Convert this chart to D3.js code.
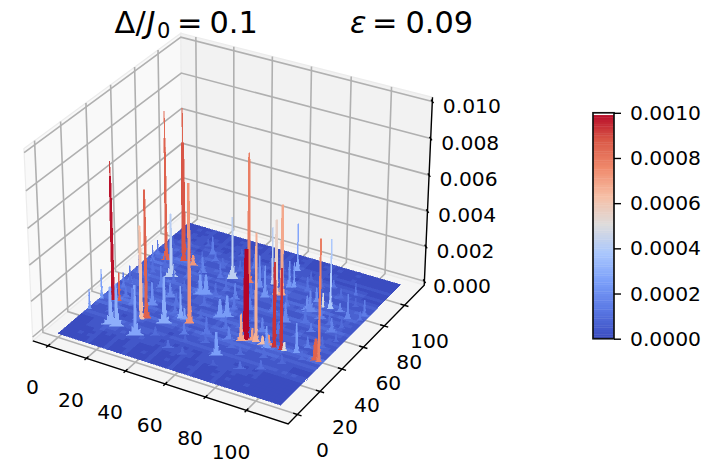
<!DOCTYPE html>
<html><head><meta charset="utf-8">
<script src="https://cdn.jsdelivr.net/npm/d3@7/dist/d3.min.js"></script>
<style>html,body{margin:0;background:#fff}svg{display:block;font-family:"DejaVu Sans",sans-serif}</style>
</head><body><svg id="c" width="702" height="464"></svg>
<script>
// ---- data ----
const xTicks=[0,20,40,60,80,100];
const yTicks=[0,20,40,60,80,100];
const zTicks=[0,0.002,0.004,0.006,0.008,0.01];
const cbTicks=[0,0.0002,0.0004,0.0006,0.0008,0.001];
const cellCount=48, surfaceMax=112;
// background level of each grid row (along y) and column (along x)
const rowLevel=[0,0,1,0,0,1,1,0,2,5,1,1,3,7,1,4,8,2,1,7,4,1,6,3,1,4,8,2,1,5,2,7,1,4,6,1,2,6,3,1,4,1,0,2,1,0,1,0].map(d=>d*1e-5);
const colLevel=[1,0,1,2,0,2,3,0,1,0,3,1,0,2,3,0,1,2,0,3,1,0,2,0,3,1,0,2,3,0,1,0,2,3,0,2,0,1,0,2,0,1,0,1,0,1,0,0].map(d=>d*1e-5);
// peaks: x, y, height, face value, base spread, neck spread
const tallPeaks=[
[6,36,.0077,.00092,1.2,.22],[6,36,.0069,.00098,1.6,.6],[9,36.4,.0016,.00085,.9,.3],
[27.1,30.2,.0071,.00085,2.3,.55],[25.5,28.4,.0052,.00062,1.5,.66],
[8.6,77.6,.0084,.00083,.5,.2],[8.6,77.6,.0069,.00085,2.3,.5],
[16,80.9,.0086,.00085,.5,.22],[16,80.9,.0067,.00088,1.8,.85],
[45.8,36.2,.0077,.00073,2.3,.66],[18.2,82.4,.0007,.00098,.8,.4],[21.8,79.6,.0006,.00072,2.2,.6],
[51.4,79.2,.0073,.00078,2.3,.53],[74.1,37,.005,.001,2.2,1.2],
[78.6,37.7,.006,.00066,1.8,.53],[87.8,37.7,.0047,.00093,1.3,.66],[91.4,37.4,.0045,.00093,1.3,.57],
[67,76.6,.0042,.00055,1.8,.66],[69.6,77.2,.0051,.00068,2.2,.66],
[110,37.3,.0067,.00078,1.3,.44],[108.4,37.5,.0012,.00085,2.6,.9]
];
const midPeaks=[
[18.3,65.9,.0036,.00041,3.4,.57],[36.1,30.6,.0026,.00029,3.6,.66],[40.2,37.8,.0018,.00028,1.8,.35],
[1,24.2,.0011,.00022,.9,.22],[1,34.3,.0017,.00025,.9,.22],[16,18.1,.0021,.0003,4.2,.6],[19.2,17.9,.0024,.0003,3.6,.57],
[30.3,15.7,.0028,.00027,4.2,.57],[15.4,37.1,.0009,.00015,1.8,.44],[43.3,78.4,.0035,.00042,3,.35],
[61.5,83.2,.0033,.00042,.9,.35],[94,78,.0039,.00038,1.4,.3],[65.7,99.2,.0027,.00027,1.6,.26],
[90.5,77.5,.0008,.00048,.7,.35],[98.4,38.6,.0017,.00024,1.6,.35],[93,37.3,.0005,.0005,1.5,.5],
[72.6,35.2,.0015,.00068,2.2,.44],[76.8,37.7,.0007,.0007,2.6,.5],[82.3,37.2,.0005,.00062,2.6,.5],[85,37.8,.0006,.00073,2.6,.5]
];
const lowPeaks=[
[98.5,93.9,.0007,.00012,1,.22],[37.4,59.6,.0011,.00024,3.2,.66],[39.7,60.9,.0011,.00024,3.2,.66],
[54.9,47.3,.001,.00024,3.2,.66],[57.6,48.9,.0012,.00024,3.2,.66],[24.5,92.8,.001,.00014,1.7,.35],
[29,76,.0009,.00016,2.3,.44],[42.1,38,.0006,.00026,2,.4],[69.2,19.6,.0013,.00025,3.2,.57],
[67.5,33.3,.0007,.00016,2.8,.44],[56.9,32,.001,.00012,2.8,.44],[85.1,35.7,.0012,.00024,2.3,.44],
[63.9,71.9,.0018,.00022,2.3,.35],[69.3,84.8,.0015,.00022,1.7,.3],[57.7,78.1,.0018,.0002,1.7,.35],
[85.5,71.9,.0008,.0002,2.8,.44],[104.7,74.2,.0014,.00017,1.7,.3],[110,75.8,.0005,.00012,1.3,.3],
[86,79.9,.0008,.0002,1.7,.4],[87.5,71,.0012,.00018,3.6,.44],[110,80,.0009,.00014,1.7,.26],
[103.7,60.9,.0008,.00016,2.8,.44],[99,77.7,.0005,.00018,2.3,.4],[3.5,73.9,.0009,.00014,1.2,.22],
[2.4,80.1,.0008,.00012,1.2,.22],[2.7,63.7,.0009,.00014,1.2,.22],[3.4,54.4,.0008,.00013,1.2,.22],
[4.4,47.2,.0009,.00013,1.2,.22],[16.7,44.6,.0008,.00018,2.3,.4],[9.8,40.6,.0006,.00012,2.3,.4],
[19.1,55.7,.0012,.00016,2.3,.35],[23.6,40.8,.0013,.0002,2.8,.44],[28.6,88.4,.0005,.00012,1.7,.3],
[38.1,76.4,.0008,.00012,1.7,.3],[48.4,27.1,.0006,.00014,2.3,.4],[47.9,14.4,.0004,.0001,2.8,.5],
[83.4,15.4,.0004,.0001,2.8,.5],[91.2,19.8,.0005,.0001,2.3,.4],[100.5,44.8,.0006,.00014,1.7,.35],
[27.1,50.6,.0008,.00018,3.2,.44],[53.1,63.8,.0009,.00016,2.3,.4],[71.2,85.9,.0014,.00024,1.2,.26],
[63.5,59.1,.0007,.00015,2.8,.44],[82.1,58.1,.0011,.00018,2.8,.44],[77.2,45.9,.0008,.00016,2.8,.44],
[94.2,68.4,.0007,.00015,2.8,.44],[95.7,56.7,.0005,.00014,2.3,.4],[47.4,91.5,.0008,.00013,1.7,.3],
[86.7,94.8,.0004,.00012,1.7,.3]
];
const smallBumps=[
[2,42,.0005,.00007,1.2,.3],[5,52,.0006,.00008,1.3,.3],[6,60,.0007,.00009,1.3,.3],[5,68,.0006,.00008,1.2,.3],
[6,84,.0006,.00008,1.3,.3],[4,91,.0005,.00007,1.2,.3],[9,49,.0006,.00009,1.5,.3],[11,57,.0007,.00009,1.7,.3],
[9,65,.0008,.0001,1.5,.3],[12,71,.0007,.00009,1.7,.3],[13,88,.0006,.00009,1.5,.3],[11,95,.0005,.00007,1.3,.3],
[15,50,.0006,.00009,2,.35],[22,62,.0007,.0001,2,.35],[25,70,.0008,.00011,2,.35],[24,84,.0006,.00009,2,.35],
[19,98,.0004,.00007,1.7,.3],[30,58,.0006,.00009,2,.35],[33,68,.0007,.0001,2.2,.35],[35,84,.0006,.00009,1.8,.3],
[33,46,.0007,.00011,2.2,.35],[37,98,.0004,.00007,1.7,.3],[44,52,.0006,.0001,2.2,.35],[46,68,.0007,.0001,2,.35],
[48,42,.0005,.00009,2.2,.35],[43,86,.0006,.00009,1.7,.3],[55,86,.0007,.00009,1.8,.3],[53,73,.0009,.00012,2,.35],
[59,68,.0008,.00011,2.2,.35],[52,22,.0004,.00007,2.2,.4],[60,26,.0005,.00009,2.3,.4],[62,40,.0007,.00011,2.4,.4],
[72,28,.0006,.00009,2.3,.4],[78,25,.0005,.00009,2.2,.4],[70,52,.0008,.00011,2.4,.4],[73,63,.0009,.00012,2.4,.4],
[76,70,.0009,.00012,2,.35],[64,88,.0007,.0001,1.7,.3],[78,86,.0008,.00011,1.7,.3],[75,95,.0005,.00008,1.5,.3],
[84,48,.0007,.00011,2.3,.4],[88,28,.0006,.00009,2.2,.4],[92,50,.0006,.0001,2.2,.4],[90,62,.0008,.00011,2.4,.4],
[97,28,.0005,.00008,2,.35],[103,35,.0005,.00009,1.8,.35],[106,48,.0006,.00009,1.7,.3],[100,66,.0006,.0001,2,.35],
[106,66,.0006,.00009,1.6,.3],[109,55,.0005,.00009,1.4,.3],[94,88,.0006,.00009,1.7,.3],[103,85,.0005,.00008,1.5,.3],
[82,92,.0005,.00009,1.7,.3],[60,96,.0005,.00007,1.5,.3],[52,100,.0004,.00007,1.4,.3],[24,27,.0005,.0001,2.2,.4],
[10,27,.0005,.00009,2.2,.4],[38,20,.0005,.00009,2.4,.4],[56,13,.0004,.00007,2.3,.4],[72,12,.0003,.00006,2.3,.4],
[36,40,.0006,.00011,2.2,.4],[57,56,.0008,.00012,2.2,.35],[44,62,.0007,.0001,2,.35],[67,44,.0007,.0001,2.2,.4]
];
// ---- scales ----
const paneLo=-8, paneHi=120, zLo=-.00022, zHi=.01022;
const boxA=1.1429, boxC=.8572, dist=10;
const xS=d3.scaleLinear([paneLo,paneHi],[-boxA/2,boxA/2]);
const yS=d3.scaleLinear([paneLo,paneHi],[-boxA/2,boxA/2]);
const zS=d3.scaleLinear([zLo,zHi],[-boxC/2,boxC/2]);
const scrX=d3.scaleLinear([0,1],[232,2792]);
const scrY=d3.scaleLinear([0,1],[219.5,-2340.5]);
const cool=d3.scaleLinear().domain([0,.000125,.00025,.000375,.0005,.000625,.00075,.000875,.001])
 .range(["#3b4cc0","#5a78e4","#7b9ff9","#aac7fd","#dddcdc","#f6bfa6","#f08a6c","#d95847","#b40426"]).clamp(true);
function view(x,y,z){const X=xS(x),Y=yS(y),Z=zS(z);
 return {a:.866*X+.5*Y,b:-.25*X+.433*Y+.866*Z,d:dist-(.433*X-.75*Y+.5*Z)};}
function P(x,y,z){const v=view(x,y,z);return [scrX(v.a/v.d),scrY(v.b/v.d)];}
const line=d3.line();
const svg=d3.select("#c");
// ---- panes ----
const paneG=svg.append("g");
function pane(pts,fill){paneG.append("path").attr("d",line(pts.map(p=>P(...p)))+"Z").attr("fill",fill).attr("stroke","#ececec").attr("stroke-width",1.2);}
pane([[paneLo,paneLo,zLo],[paneLo,paneHi,zLo],[paneLo,paneHi,zHi],[paneLo,paneLo,zHi]],"#f9f9f9");
pane([[paneLo,paneHi,zLo],[paneHi,paneHi,zLo],[paneHi,paneHi,zHi],[paneLo,paneHi,zHi]],"#f2f2f2");
pane([[paneLo,paneLo,zLo],[paneHi,paneLo,zLo],[paneHi,paneHi,zLo],[paneLo,paneHi,zLo]],"#f5f5f5");
// ---- grid ----
const gridG=svg.append("g").attr("fill","none").attr("stroke","#b0b0b0").attr("stroke-width",1.6);
function poly(g,pts){g.append("path").attr("d",line(pts.map(p=>P(...p))));}
xTicks.forEach(t=>poly(gridG,[[t,paneLo,zLo],[t,paneHi,zLo],[t,paneHi,zHi]]));
yTicks.forEach(t=>poly(gridG,[[paneHi,t,zLo],[paneLo,t,zLo],[paneLo,t,zHi]]));
zTicks.forEach(t=>poly(gridG,[[paneLo,paneLo,t],[paneLo,paneHi,t],[paneHi,paneHi,t]]));
// ---- axes ----
const axG=svg.append("g").attr("fill","none").attr("stroke","#000").attr("stroke-width",1.4);
poly(axG,[[paneLo,paneLo,zLo],[paneHi,paneLo,zLo],[paneHi,paneHi,zLo],[paneHi,paneHi,zHi]]);
xTicks.forEach(t=>poly(axG,[[t,paneLo+1.6,zLo],[t,paneLo-1.6,zLo]]));
yTicks.forEach(t=>poly(axG,[[paneHi-2,t,zLo],[paneHi+2,t,zLo]]));
zTicks.forEach(t=>poly(axG,[[paneHi-1.2,paneHi+1.2,t],[paneHi+1.2,paneHi-1.2,t]]));
const labG=svg.append("g").attr("font-size",20.3).attr("fill","#000");
xTicks.forEach(t=>{const p=P(t,paneLo,zLo);labG.append("text").attr("x",p[0]-15.5).attr("y",p[1]+41).attr("dy",".36em").attr("text-anchor","middle").text(t);});
yTicks.forEach(t=>{const p=P(paneHi,t,zLo);labG.append("text").attr("x",p[0]+25).attr("y",p[1]+35.5).attr("dy",".36em").attr("text-anchor","middle").text(t);});
zTicks.forEach(t=>{const p=P(paneHi,paneHi,t);labG.append("text").attr("x",p[0]+10.5-(t===0?2:0)).attr("y",p[1]+4).attr("dy",".36em").text(t.toFixed(3));});
// ---- surface floor ----
const allPeaks=[...tallPeaks,...midPeaks,...lowPeaks,...smallBumps];
const cell=surfaceMax/cellCount;
const floorV=d3.range(cellCount).map(i=>d3.range(cellCount).map(j=>rowLevel[j]*.8+colLevel[i]*.5));
allPeaks.forEach(([x,y,z,v,b])=>{const r=Math.max(3,(b*1.6)/cell+1.5),ci=x/cell,cj=y/cell;
 for(let i=0;i<cellCount;i++)for(let j=0;j<cellCount;j++){const q=Math.hypot(i+.5-ci,j+.5-cj);
  if(q<r)floorV[i][j]+=Math.min(.00003,z*.04)*(1-q/r);}});
const step=v=>Math.round(v/.00003)*.00003;
const surf=svg.append("g").attr("shape-rendering","crispEdges");
for(let j=cellCount-1;j>=0;j--)for(let i=0;i<cellCount;i++){
 const x0=i*cell,x1=x0+cell,y0=j*cell,y1=y0+cell,c=cool(step(floorV[i][j]));
 surf.append("path").attr("d",line([[x0,y0,0],[x1,y0,0],[x1,y1,0],[x0,y1,0]].map(p=>P(...p)))+"Z").attr("fill",c).attr("stroke",c).attr("stroke-width",.6);
}
// ---- peaks: jagged ribbons facing the viewer, far ones first ----
function ribbon([x,y,z,v,b,n]){const s=Math.min(z*.7,.0012);
 const left=[[b,0],[b*.62,s*.07],[b*.66,s*.2],[b*.38,s*.16],[b*.36,s*.42],[Math.max(n*1.1,b*.16),s*.36],[n*1.1,s*.75],[n,s],[n*.85,z*.65],[n*.6,z]];
 const right=[[b*.9,0],[b*.5,s*.12],[b*.56,s*.3],[b*.26,s*.26],[Math.max(n*1.4,b*.3),s*.6],[Math.max(n*1.05,b*.14),s*.52],[n,s],[n*.85,z*.65],[n*.6,z]];
 const side=(pr,sg)=>pr.map(([w,h])=>[x+sg*w*.866,y+sg*w*.5,h]);
 return [...side(left,-1),...side(right,1).reverse()];}
const sorted=allPeaks.slice().sort((p,q)=>view(q[0],q[1],0).d-view(p[0],p[1],0).d);
surf.selectAll(".pk").data(sorted).enter().append("path").attr("class","pk")
 .attr("d",d=>line(ribbon(d).map(p=>P(...p)))+"Z")
 .attr("fill",d=>cool(d[3])).attr("stroke",d=>cool(d[3])).attr("stroke-width",.5);
// ---- titles ----
const T=svg.append("g").attr("font-size",30.4).attr("fill","#000");
T.append("text").attr("x",114.5).attr("y",33).text("Δ");
T.append("text").attr("x",135.5).attr("y",33).text("/");
T.append("text").attr("x",146.5).attr("y",33).attr("font-style","italic").text("J");
T.append("text").attr("x",157).attr("y",38).attr("font-size",21).text("0");
T.append("text").attr("x",177).attr("y",33).text("=");
T.append("text").attr("x",209.5).attr("y",33).text("0.1");
T.append("text").attr("x",350).attr("y",33).attr("font-style","italic").text("ε");
T.append("text").attr("x",372).attr("y",33).text("=");
T.append("text").attr("x",405.5).attr("y",33).text("0.09");
// ---- colorbar ----
const cbY=d3.scaleLinear([0,.001],[338.7,112.8]);
const cb=svg.append("g");
const dom=d3.range(0,.00099,.00001);
cb.selectAll("rect").data(dom).enter().append("rect").attr("x",593).attr("width",21)
 .attr("y",d=>cbY(d+.00001)).attr("height",d=>cbY(d)-cbY(d+.00001)+.4).attr("fill",d=>cool(d));
cb.append("rect").attr("x",593).attr("y",112.8).attr("width",21).attr("height",225.9).attr("fill","none").attr("stroke","#111").attr("stroke-width",1.7);
const cbAxis=d3.axisRight(cbY).tickValues(cbTicks).tickFormat(d3.format(".4f")).tickSize(7).tickPadding(9);
const cbg=svg.append("g").attr("transform","translate(614,0)").call(cbAxis);
cbg.select(".domain").remove();
cbg.selectAll("line").attr("stroke","#000").attr("stroke-width",1.4);
cbg.selectAll("text").attr("font-size",20.3).attr("font-family","DejaVu Sans").attr("fill","#000");
</script></body></html>
